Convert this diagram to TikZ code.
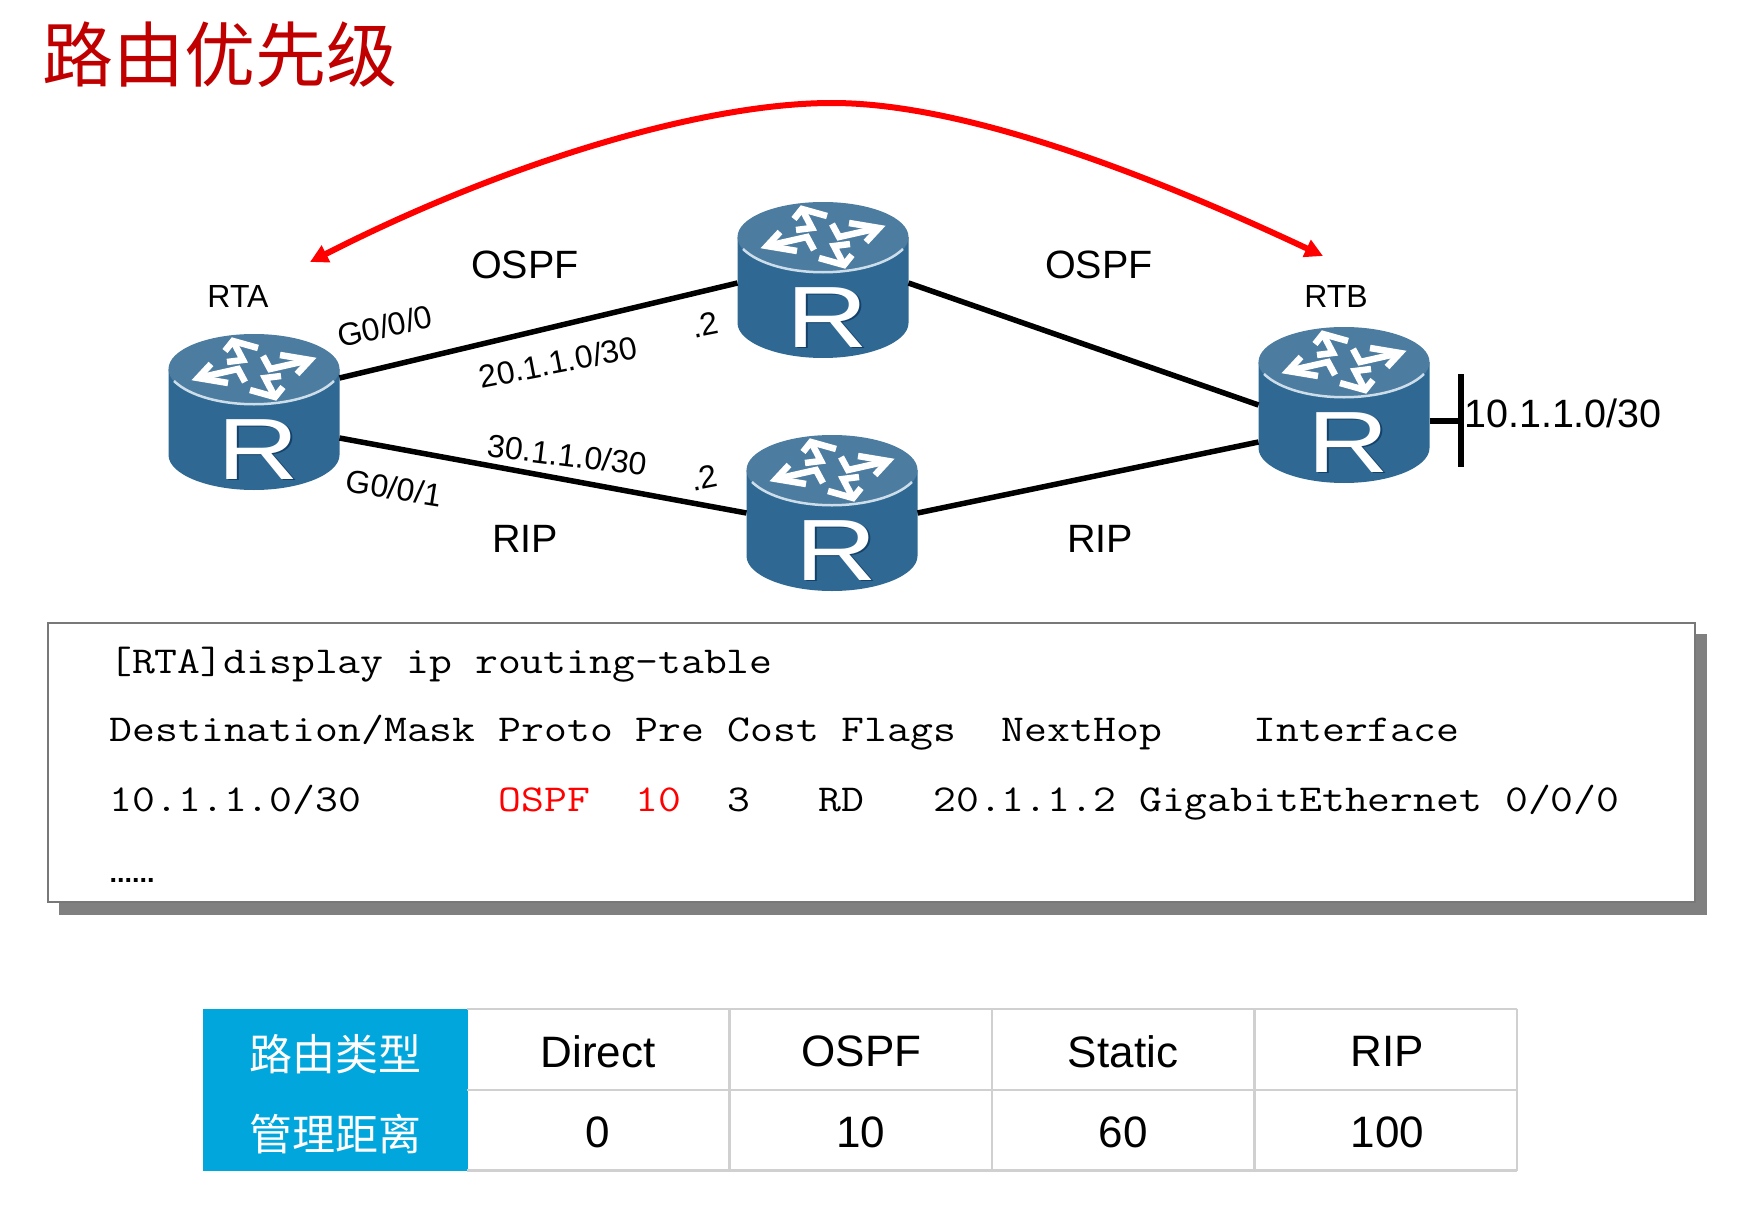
\documentclass[tikz,border=0pt]{standalone}
\usepackage{fontspec}
\usepackage{graphicx}
\usetikzlibrary{arrows.meta,calc}
\setmainfont{Liberation Sans}
\newfontfamily\cjk{Noto Sans CJK SC}
\newcommand{\fsz}[1]{\fontsize{#1}{#1}\selectfont}
\newcommand{\monoline}[1]{\scalebox{1.169}[1]{\ttfamily\fsz{38}#1}}
\newcommand{\lowtext}[1]{\raisebox{-2.2pt}[\height][\depth]{#1}}
\newcommand{\lowcjk}[1]{\raisebox{-4.5pt}[\height][\depth]{#1}}
\definecolor{rbody}{RGB}{47,105,147}
\definecolor{rtop}{RGB}{76,124,160}
\definecolor{rshade}{RGB}{20,65,105}
\definecolor{rlight}{RGB}{205,222,234}
\definecolor{tblue}{RGB}{0,166,220}
\definecolor{tgrid}{RGB}{208,208,208}
\definecolor{tred}{RGB}{192,0,0}
\definecolor{shadowgray}{RGB}{128,128,128}
\definecolor{boxline}{RGB}{120,120,120}
\tikzset{
  routerbox/.style={minimum width=171pt,minimum height=156pt,inner sep=0pt,outer sep=0pt},
  link/.style={line width=5.5pt,black},
  redarrow/.style={line width=6pt,red,{Triangle[length=18pt,width=18pt]}-{Triangle[length=18pt,width=18pt]}},
  lab/.style={inner sep=0pt,font=\fsz{39.5}},
  small/.style={inner sep=0pt,font=\fsz{32}},
  monotext/.style={inner sep=0pt,anchor=base west},
  cellbox/.style={minimum width=262.5pt,minimum height=81pt,inner sep=0pt,font=\fsz{44}},
  headcell/.style={minimum width=265pt,minimum height=81pt,inner sep=0pt,text=white,font=\cjk\fsz{43},fill=tblue},
  wheel/.style={white,line width=6.5pt,miter limit=6},
}
% #1 name, #2 centre
\newcommand{\router}[2]{%
  \node[routerbox] (#1) at #2 {};
  \begin{scope}[shift={#2}]
    \fill[rbody] (-85.5,-43) -- (-85.5,43) .. controls (-85.5,62) and (-47,78) .. (0,78)
       .. controls (47,78) and (85.5,62) .. (85.5,43) -- (85.5,-43) -- cycle;
    \fill[rtop] (0,-43) ellipse [x radius=85.5,y radius=35];
    \draw[rlight,line width=2.5pt] (-80,-31) .. controls (-48,0) and (48,0) .. (80,-31);
    \draw[wheel] (-29,-61) -- (-21,-71) -- (4,-64);
    \draw[wheel] (-21,-71) -- (-11,-52) -- (-27,-50);
    \draw[wheel] (26,-57) -- (56,-52) -- (43,-38);
    \draw[wheel] (56,-52) -- (16,-43) -- (9,-56);
    \draw[wheel] (29,-25) -- (21,-15) -- (-4,-22);
    \draw[wheel] (21,-15) -- (11,-34) -- (27,-36);
    \draw[wheel] (-26,-29) -- (-56,-34) -- (-43,-48);
    \draw[wheel] (-56,-34) -- (-16,-43) -- (-9,-30);
    \node[inner sep=0pt,anchor=base,text=rshade] (#1rs) at (6.5,68) {\scalebox{1.3}[1]{\fsz{87}R}};
    \node[inner sep=0pt,anchor=base,text=white] (#1r) at (4.5,67) {\scalebox{1.3}[1]{\fsz{87}R}};
  \end{scope}
}
\begin{document}
\begin{tikzpicture}[x=1pt,y=-1pt]
\useasboundingbox (0,0) rectangle (1748,1212);
\fill[white] (0,0) rectangle (1748,1212);

\node[text=tred,inner sep=0pt,font=\cjk\fsz{71}] (title) at (219.5,55) {路由优先级};

\router{rta}{(254,412)}
\router{rtm}{(823,280)}
\router{rtr}{(832,513)}
\router{rtb}{(1344,405)}

\draw[link] ([yshift=34pt]rta.east) -- ([yshift=-3pt]rtm.west);
\draw[link] ([yshift=-26pt]rta.east) -- ([yshift=0pt]rtr.west);
\draw[link] ([yshift=-3pt]rtm.east) -- (rtb.west);
\draw[link] ([yshift=0pt]rtr.east) -- ([yshift=-37pt]rtb.west);

\coordinate (bar) at (1461,421);
\coordinate (bartop) at (1461,374);
\coordinate (barbot) at (1461,467);
\draw[link] ([yshift=-16pt]rtb.east) -- (bar);
\draw[link] (bartop) -- (barbot);

\coordinate (arcl) at (310,262);
\coordinate (arcm) at (832,103);
\coordinate (arcr) at (1323,256);
\draw[redarrow] (arcl) .. controls (500,165) and (700,103) .. (arcm) .. controls (960,103) and (1140,170) .. (arcr);

\node[small] (lrta) at (238,296) {RTA};
\node[small] (lrtb) at (1336,296) {RTB};
\node[lab] (o1) at (525,265) {OSPF};
\node[lab] (o2) at (1099,265) {OSPF};
\node[lab] (r1) at (525,539) {RIP};
\node[lab] (r2) at (1100,539) {RIP};
\node[small,rotate=12] (g0) at (385,326) {G0/0/0};
\node[small,rotate=-9] (g1) at (394,488) {G0/0/1};
\node[small,rotate=11] (n20) at (558,362) {20.1.1.0/30};
\node[small,rotate=-7] (n30) at (567,455) {30.1.1.0/30};
\node[small,rotate=11] (d1) at (705,325) {.2};
\node[small,rotate=11] (d2) at (704,478) {.2};
\node[lab] (n10) at (1563,413) {10.1.1.0/30};

\fill[shadowgray] (59,634) rectangle (1707,915);
\node[draw=boxline,line width=1.5pt,fill=white,minimum width=1647pt,minimum height=279pt,inner sep=0pt] (term) at (871.5,762.5) {};
\node[monotext] (t1) at (109,673) {\monoline{[RTA]display ip routing-table}};
\node[monotext] (t2) at (109.5,741) {\monoline{Destination/Mask Proto Pre Cost Flags~~NextHop~~~~Interface}};
\node[monotext] (t3) at (109.5,811) {\monoline{10.1.1.0/30~~~~~~\textcolor{red}{OSPF}~~\textcolor{red}{10}~~3~~~RD~~~20.1.1.2 GigabitEthernet 0/0/0}};
\node[monotext,font=\bfseries\fsz{27}] (t4) at (109.5,882) {......};

\node[headcell] (h1) at (335,1049.5) {\lowcjk{路由类型}};
\node[headcell] (h2) at (335,1130) {\lowcjk{管理距离}};
\node[cellbox] (a1) at (598,1049.5) {\lowtext{Direct}};
\node[cellbox] (a2) at (860.5,1049.5) {\hspace*{2pt}\lowtext{OSPF}};
\node[cellbox] (a3) at (1123,1049.5) {\lowtext{Static}};
\node[cellbox] (a4) at (1385.5,1049.5) {\hspace*{4pt}\lowtext{RIP}};
\node[cellbox] (b1) at (598,1130) {\lowtext{0}};
\node[cellbox] (b2) at (860.5,1130) {\lowtext{10}};
\node[cellbox] (b3) at (1123,1130) {\lowtext{60}};
\node[cellbox] (b4) at (1385.5,1130) {\hspace*{4pt}\lowtext{100}};
\draw[tgrid,line width=2.5pt] (a1.north west) -- (a4.north east);
\draw[tgrid,line width=2.5pt] (a1.south west) -- (a4.south east);
\draw[tgrid,line width=2.5pt] (b1.south west) -- (b4.south east);
\draw[tgrid,line width=2.5pt] (a1.north east) -- (b1.south east);
\draw[tgrid,line width=2.5pt] (a2.north east) -- (b2.south east);
\draw[tgrid,line width=2.5pt] (a3.north east) -- (b3.south east);
\draw[tgrid,line width=2.5pt] (a4.north east) -- (b4.south east);
\end{tikzpicture}
\end{document}
